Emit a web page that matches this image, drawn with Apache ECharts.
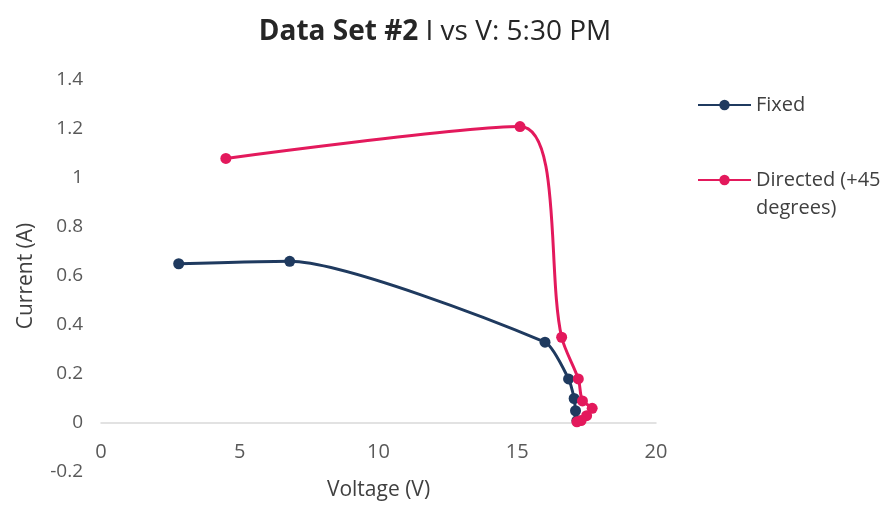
<!DOCTYPE html>
<html>
<head>
<meta charset="utf-8">
<script src="https://cdn.jsdelivr.net/npm/echarts@6/dist/echarts.min.js"></script>
<style>html,body{margin:0;padding:0;background:#fff}#c{width:884px;height:508px}</style>
</head>
<body>
<div id="c"></div>
<script>
var titleBold = 'Data Set #2';
var titleRest = ' I vs V: 5:30 PM';
var xName = 'Voltage (V)';
var yName = 'Current (A)';
var seriesNames = ['Fixed', 'Directed (+45 degrees)'];
var legendLines = ['Directed (+45', 'degrees)'];
var fixedV = [2.8, 6.8, 16.0, 16.85, 17.05, 17.1, 17.15];
var fixedI = [0.65, 0.66, 0.33, 0.18, 0.10, 0.05, 0.01];
var directedV = [4.5, 15.1, 16.6, 17.2, 17.35, 17.7, 17.5, 17.3, 17.15];
var directedI = [1.08, 1.21, 0.35, 0.18, 0.09, 0.06, 0.03, 0.01, 0.005];
var xTicks = {min: 0, max: 20, interval: 5};
var yTicks = {min: -0.2, max: 1.4, interval: 0.2};

function pairs(xs, ys) { return xs.map(function (x, i) { return [x, ys[i]]; }); }

var FONT = 'Open Sans';
var chart = echarts.init(document.getElementById('c'), null, {renderer: 'canvas'});
chart.setOption({
  animation: false,
  backgroundColor: '#ffffff',
  title: {
    text: '{b|' + titleBold + '}{n|' + titleRest + '}',
    left: 430, top: 13, textAlign: 'center',
    textStyle: {
      rich: {
        b: {fontFamily: FONT, fontSize: 28, fontWeight: 'bold', color: '#262626'},
        n: {fontFamily: FONT, fontSize: 28, fontWeight: 'normal', color: '#262626'}
      }
    }
  },
  grid: {left: 101, right: 228, top: 80, bottom: 36, containLabel: false, outerBoundsMode: 'none'},
  legend: [{
    data: [seriesNames[0]], orient: 'vertical', left: 697, top: 91, padding: 0,
    itemWidth: 53, itemHeight: 13,
    textStyle: {fontFamily: FONT, fontSize: 20, color: '#404040', lineHeight: 28}
  }, {
    data: [seriesNames[1]], orient: 'vertical', left: 697, top: 138, padding: 0,
    itemWidth: 53, itemHeight: 13,
    formatter: function (n) { return '{e| }\n{t|' + legendLines[0] + '}\n{t|' + legendLines[1] + '}'; },
    textStyle: {fontFamily: FONT, fontSize: 20, color: '#404040', lineHeight: 28,
      rich: {
        e: {fontFamily: FONT, fontSize: 20, lineHeight: 28},
        t: {fontFamily: FONT, fontSize: 20, color: '#404040', lineHeight: 28}
      }}
  }],
  xAxis: {
    type: 'value', min: xTicks.min, max: xTicks.max, interval: xTicks.interval,
    name: xName, nameLocation: 'middle', nameGap: 8,
    nameTextStyle: {fontFamily: FONT, fontSize: 21, color: '#404040'},
    axisLine: {show: true, onZero: true, lineStyle: {color: '#d9d9d9', width: 1.5}},
    axisTick: {show: false},
    axisLabel: {margin: -30, fontFamily: FONT, fontSize: 20, color: '#595959'},
    splitLine: {show: false}
  },
  yAxis: {
    type: 'value', min: yTicks.min, max: yTicks.max, interval: yTicks.interval,
    name: yName, nameLocation: 'middle', nameGap: 64, nameRotate: 90,
    nameTextStyle: {fontFamily: FONT, fontSize: 21, color: '#404040'},
    axisLine: {show: false}, axisTick: {show: false},
    axisLabel: {margin: 18, fontFamily: FONT, fontSize: 19, color: '#595959',
      formatter: function (v) { return String(Math.round(v * 10) / 10); }},
    splitLine: {show: false}
  },
  series: [{
    name: seriesNames[0], type: 'line', smooth: 0.2,
    data: pairs(fixedV, fixedI),
    symbol: 'circle', symbolSize: 11,
    lineStyle: {color: '#1f3a5f', width: 3},
    itemStyle: {color: '#1f3a5f'}, z: 2
  }, {
    name: seriesNames[1], type: 'line', smooth: 0.3,
    data: pairs(directedV, directedI),
    symbol: 'circle', symbolSize: 11,
    lineStyle: {color: '#e3195c', width: 3},
    itemStyle: {color: '#e3195c'}, z: 3
  }]
});
</script>
</body>
</html>
